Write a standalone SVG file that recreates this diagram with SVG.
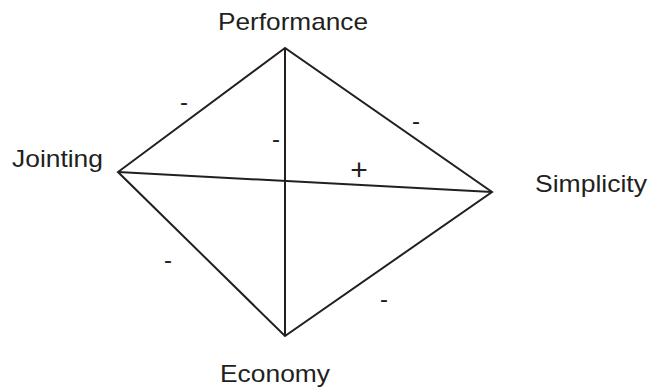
<svg xmlns="http://www.w3.org/2000/svg" width="652" height="387" viewBox="0 0 652 387">
<style>
.lbl{font-family:"Liberation Sans",Arial,sans-serif;font-size:24px;fill:#231f20}
.sgn{font-family:"Liberation Sans",Arial,sans-serif;font-size:24px;fill:#231f20;text-anchor:middle}
.plus{font-size:30px}
.edge{stroke:#231f20;stroke-width:2;fill:none;stroke-linejoin:miter}
</style>
<rect width="652" height="387" fill="#fff"/>
<g id="connectors">
<path class="edge" d="M285,48 L118,172 L285,336 L492,192 Z"/>
<line class="edge" x1="285" y1="48" x2="285" y2="336"/>
<line class="edge" x1="118" y1="172" x2="492" y2="192"/>
</g>
<g id="performance"><text class="lbl" x="218" y="30" textLength="150" lengthAdjust="spacingAndGlyphs">Performance</text></g>
<g id="jointing"><text class="lbl" x="12" y="167" textLength="91" lengthAdjust="spacingAndGlyphs">Jointing</text></g>
<g id="simplicity"><text class="lbl" x="535" y="192" textLength="112" lengthAdjust="spacingAndGlyphs">Simplicity</text></g>
<g id="economy"><text class="lbl" x="220" y="382" textLength="110" lengthAdjust="spacingAndGlyphs">Economy</text></g>
<g id="signs">
<text class="sgn" x="184" y="110">-</text>
<text class="sgn" x="276" y="147">-</text>
<text class="sgn" x="416" y="129">-</text>
<text class="sgn plus" x="359" y="180">+</text>
<text class="sgn" x="168" y="268">-</text>
<text class="sgn" x="384" y="307">-</text>
</g>
</svg>
